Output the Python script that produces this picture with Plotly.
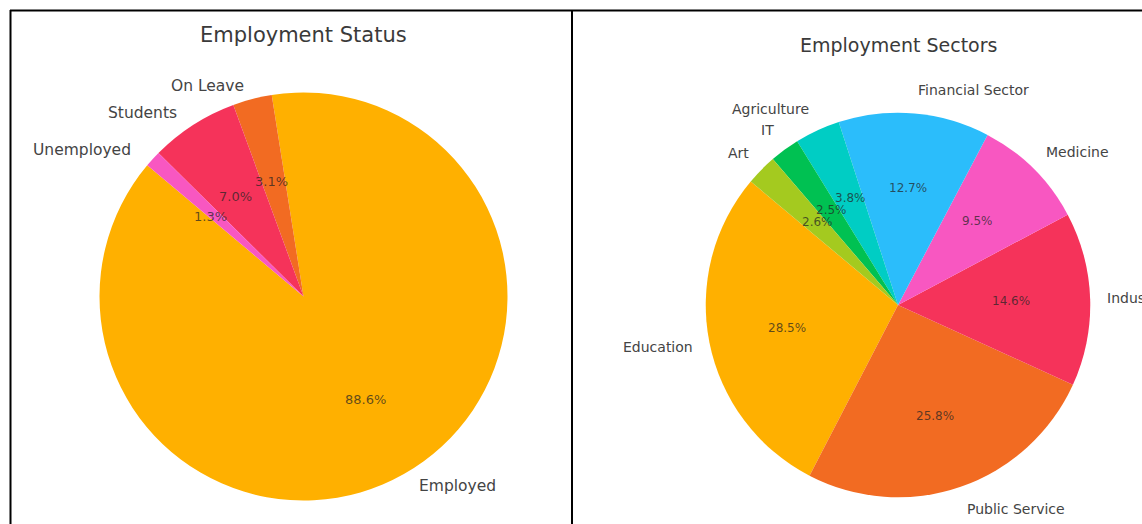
import math
import plotly.graph_objects as go

# Employment status shares (%)
status_labels = ["Employed", "On Leave", "Students", "Unemployed"]
status_values = [88.6, 3.1, 7.0, 1.3]
status_colors = ["#FFB000", "#F26B22", "#F5335A", "#F857C1"]

# Employment sector shares (%)
sector_labels = ["Education", "Public Service", "Industry", "Medicine",
                 "Financial Sector", "Agriculture", "IT", "Art"]
sector_values = [28.5, 25.8, 14.6, 9.5, 12.7, 3.8, 2.5, 2.6]
sector_colors = ["#FFB000", "#F26B22", "#F5335A", "#F857C1",
                 "#2BBDFB", "#00CDC4", "#00C152", "#A4CA1F"]

W, H = 1142, 524
START_ANGLE = 140          # first wedge starts here, degrees CCW from 3 o'clock
LABEL_DIST = 1.1           # category labels, in radii
PCT_DIST = 0.6             # percentage labels, in radii
FONT = "DejaVu Sans"

panels = [
    dict(title="Employment Status", labels=status_labels, values=status_values,
         colors=status_colors, cx=303.5, cy=296.5, rx=210, ry=198,
         title_y=35, title_size=21, label_size=15.5, pct_size=13),
    dict(title="Employment Sectors", labels=sector_labels, values=sector_values,
         colors=sector_colors, cx=898, cy=305, rx=188, ry=196.5,
         title_y=45, title_size=19, label_size=14, pct_size=12),
]


def px(x):
    return x / W


def py(y):
    return 1 - y / H


def plotly_rotation(values):
    # With counterclockwise direction, plotly's rotation is the clockwise
    # (from 12 o'clock) edge of the first slice, i.e. where that slice ends.
    total = sum(values)
    rot = 90 - START_ANGLE - 360 * values[0] / total
    return (rot + 180) % 360 - 180


fig = go.Figure()
annotations = []

for p in panels:
    r = (p["rx"] + p["ry"]) / 2
    fig.add_trace(go.Pie(
        labels=p["labels"], values=p["values"],
        marker=dict(colors=p["colors"], line=dict(width=0)),
        sort=False, direction="counterclockwise",
        rotation=plotly_rotation(p["values"]),
        textinfo="none", hoverinfo="label+percent", showlegend=False,
        domain=dict(x=[px(p["cx"] - r), px(p["cx"] + r)],
                    y=[py(p["cy"] + r), py(p["cy"] - r)]),
    ))

    annotations.append(dict(
        text=p["title"], x=px(p["cx"]), y=py(p["title_y"]),
        xref="paper", yref="paper", xanchor="center", yanchor="middle",
        showarrow=False, font=dict(family=FONT, size=p["title_size"], color="#3a3a3a"),
    ))

    total = sum(p["values"])
    cum = 0.0
    for lab, val in zip(p["labels"], p["values"]):
        mid = math.radians(START_ANGLE + 360 * (cum + val / 2) / total)
        cum += val
        c, s = math.cos(mid), math.sin(mid)
        lx = p["cx"] + LABEL_DIST * p["rx"] * c
        ly = p["cy"] - LABEL_DIST * p["ry"] * s
        annotations.append(dict(
            text=lab, x=px(lx), y=py(ly), xref="paper", yref="paper",
            xanchor="left" if c > 0 else "right", yanchor="middle",
            showarrow=False, font=dict(family=FONT, size=p["label_size"], color="#444444"),
        ))
        tx = p["cx"] + PCT_DIST * p["rx"] * c
        ty = p["cy"] - PCT_DIST * p["ry"] * s
        annotations.append(dict(
            text=f"{100 * val / total:.1f}%", x=px(tx), y=py(ty),
            xref="paper", yref="paper", xanchor="center", yanchor="middle",
            showarrow=False, font=dict(family=FONT, size=p["pct_size"], color="rgba(35,35,35,0.72)"),
        ))

# Panel frames
frame = dict(type="line", xref="paper", yref="paper", line=dict(color="black", width=2))
shapes = [
    dict(frame, x0=px(10), x1=1, y0=py(10.5), y1=py(10.5)),
    dict(frame, x0=px(10.5), x1=px(10.5), y0=py(10), y1=0),
    dict(frame, x0=px(572), x1=px(572), y0=py(10), y1=0),
]

fig.update_layout(
    width=W, height=H, autosize=False,
    margin=dict(l=0, r=0, t=0, b=0),
    paper_bgcolor="white", plot_bgcolor="white",
    annotations=annotations, shapes=shapes,
)

fig.write_html("out.html", config={"displayModeBar": False})
